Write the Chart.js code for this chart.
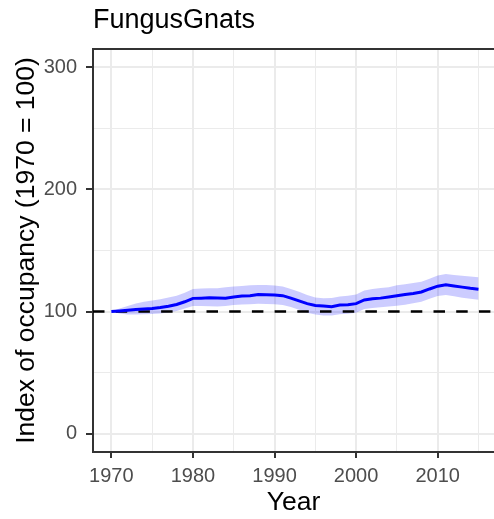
<!DOCTYPE html>
<html>
<head>
<meta charset="utf-8">
<script src="https://cdn.jsdelivr.net/npm/chart.js@4.4.1/dist/chart.umd.min.js"></script>
<style>
  html, body { margin: 0; padding: 0; background: #ffffff; }
  #c { display: block; }
</style>
</head>
<body>
<canvas id="c" width="494" height="519"></canvas>
<script>
// ---- data ----
const years = [1970,1971,1972,1973,1974,1975,1976,1977,1978,1979,
               1980,1981,1982,1983,1984,1985,1986,1987,1988,1989,
               1990,1991,1992,1993,1994,1995,1996,1997,1998,1999,
               2000,2001,2002,2003,2004,2005,2006,2007,2008,2009,
               2010,2011,2012,2013,2014,2015];
const indexValues = [100,100.5,101,101.6,102,102.5,103.3,104.3,105.8,108,
               110.8,111,111.3,111.2,111,112,112.8,113,114,113.8,
               113.5,113,111,108.7,106.5,105,104.5,104,105.3,105.5,
               106.5,109.5,110.5,111,112,113,114,114.8,116,118.5,
               120.8,122,121,120,119,118.2];
const upperValues = [100,102.5,104.5,106.5,108,109,110,111.5,113,115.5,
               118.5,118.8,119,119,120,120.5,121,121.5,121.8,121.8,
               121.3,120.5,118.5,116.2,113.5,111.5,110.8,111.2,112.3,113,
               114,117.2,118.5,119.3,120,121.5,122.3,123.3,124.5,126.8,
               129.5,130.8,130,129.4,128.7,128];
const lowerValues = [100,98.5,97.5,97.5,97.8,98,98.5,99.2,100.5,102.5,
               104.5,104.5,104.3,104.2,104.5,105.3,105.8,106,106.3,106.2,
               106,105.3,103.8,101.4,99,97.5,96.8,96.7,97.8,98.2,
               99,102,103,103.6,104.1,104.8,105.5,106.8,108,110.5,
               112.8,113.6,112.5,111.4,110.5,109.6];
const xMajorTicks = [1970,1980,1990,2000,2010];
const xMinorTicks = [1975,1985,1995,2005,2015];
const yMajorTicks = [0,100,200,300];
const yMinorTicks = [50,150,250];
const referenceLevel = 100;
const xMin = 1967.75, xMax = 2016.9;
const yMin = -15, yMax = 315;

// ---- styles ----
const FONT = "'Liberation Sans', Arial, Helvetica, sans-serif";
const GRID = '#EBEBEB';
const AXIS = '#333333';

const toPts = (vals) => years.map((yr, i) => ({ x: yr, y: vals[i] }));

const topBorder = {
  id: 'topBorder',
  afterDraw(chart) {
    const { ctx, chartArea: a } = chart;
    ctx.save();
    ctx.strokeStyle = AXIS;
    ctx.lineWidth = 2;
    ctx.beginPath();
    ctx.moveTo(a.left - 1, a.top);
    ctx.lineTo(a.right, a.top);
    ctx.stroke();
    ctx.restore();
  }
};

const isMajorX = (ctx) => ctx.tick && xMajorTicks.includes(ctx.tick.value);
const isMajorY = (ctx) => ctx.tick && yMajorTicks.includes(ctx.tick.value);

new Chart(document.getElementById('c'), {
  type: 'line',
  data: {
    datasets: [
      { label: 'upper', data: toPts(upperValues), borderWidth: 0, pointRadius: 0,
        fill: false, borderColor: 'rgba(0,0,0,0)', order: 4 },
      { label: 'lower', data: toPts(lowerValues), borderWidth: 0, pointRadius: 0,
        fill: '-1', backgroundColor: 'rgba(0,0,255,0.2)', borderColor: 'rgba(0,0,0,0)', order: 3 },
      { label: 'reference', data: [{ x: xMin, y: referenceLevel }, { x: xMax, y: referenceLevel }],
        borderColor: '#000000', borderWidth: 2.6, borderDash: [11.5, 11.2], pointRadius: 0, fill: false, order: 2 },
      { label: 'index', data: toPts(indexValues), borderColor: '#0000FF', borderWidth: 3,
        pointRadius: 0, fill: false, tension: 0, order: 1 }
    ]
  },
  options: {
    responsive: false,
    devicePixelRatio: 1,
    animation: false,
    layout: { padding: { left: 0, right: 0, top: 0, bottom: 0 } },
    plugins: {
      legend: { display: false },
      tooltip: { enabled: false },
      title: {
        display: true, text: 'FungusGnats', align: 'start', fullSize: false,
        color: '#000000', font: { family: FONT, size: 27, weight: 'normal' },
        padding: { top: 4, bottom: 12.6 }
      }
    },
    scales: {
      x: {
        type: 'linear', min: xMin, max: xMax,
        afterBuildTicks: (s) => {
          s.ticks = [...xMajorTicks, ...xMinorTicks].sort((a, b) => a - b).map(v => ({ value: v }));
        },
        afterFit: (s) => { s.height = 67; },
        ticks: {
          autoSkip: false, maxRotation: 0, minRotation: 0,
          callback: (v) => xMajorTicks.includes(v) ? String(v) : '',
          color: '#4D4D4D', font: { family: FONT, size: 20 }, padding: 6
        },
        grid: {
          color: GRID,
          lineWidth: (ctx) => isMajorX(ctx) ? 2 : 1,
          tickColor: (ctx) => isMajorX(ctx) ? AXIS : 'rgba(0,0,0,0)',
          tickLength: 6, tickWidth: 2
        },
        border: { display: true, color: AXIS, width: 2 },
        title: {
          display: true, text: 'Year', color: '#000000',
          font: { family: FONT, size: 26.5 }, padding: { top: 0, bottom: 0 }
        }
      },
      y: {
        type: 'linear', min: yMin, max: yMax,
        afterBuildTicks: (s) => {
          s.ticks = [...yMajorTicks, ...yMinorTicks].sort((a, b) => a - b).map(v => ({ value: v }));
        },
        afterFit: (s) => { s.width = 93; },
        ticks: {
          autoSkip: false,
          callback: (v) => yMajorTicks.includes(v) ? String(v) : '',
          color: '#4D4D4D', font: { family: FONT, size: 20 }, padding: 9
        },
        grid: {
          color: GRID,
          lineWidth: (ctx) => isMajorY(ctx) ? 2 : 1,
          tickColor: (ctx) => isMajorY(ctx) ? AXIS : 'rgba(0,0,0,0)',
          tickLength: 7, tickWidth: 2
        },
        border: { display: true, color: AXIS, width: 2 },
        title: {
          display: true, text: 'Index of occupancy (1970 = 100)', color: '#000000',
          font: { family: FONT, size: 26.5 }, padding: { top: 11, bottom: 0 }
        }
      }
    }
  },
  plugins: [topBorder]
});
</script>
</body>
</html>
